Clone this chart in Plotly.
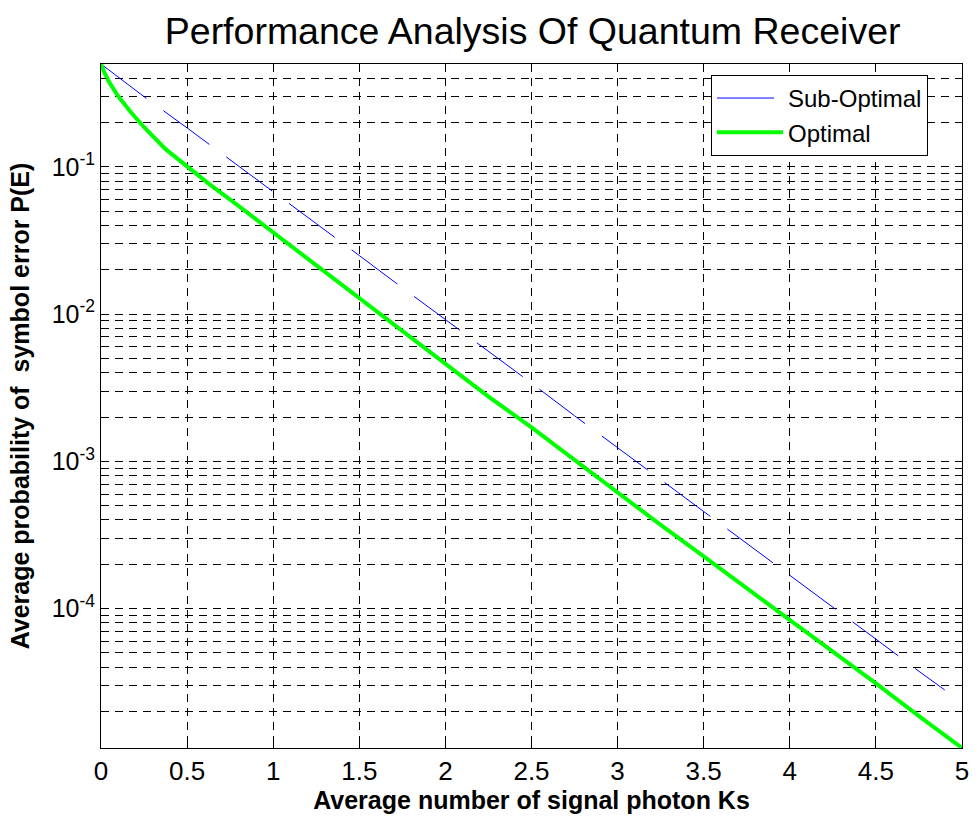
import plotly.graph_objects as go

# Data
ks_sub = [0, 0.25, 0.5, 0.75, 1.0, 1.25, 1.5, 1.75, 2.0, 2.25, 2.5, 2.75, 3.0,
          3.25, 3.5, 3.75, 4.0, 4.25, 4.5, 4.75, 4.9]
pe_sub = [0.5, 0.30, 0.184, 0.112, 0.068, 0.041, 0.025, 0.0151, 0.0092, 0.0056,
          0.0034, 0.00204, 0.00124, 7.5e-4, 4.6e-4, 2.8e-4, 1.68e-4, 1.02e-4,
          6.2e-5, 3.75e-5, 2.8e-5]

ks_opt = [0, 0.02, 0.05, 0.1, 0.175, 0.25, 0.375, 0.5, 0.625, 0.75, 1.0, 1.25,
          1.5, 1.75, 2.0, 2.25, 2.5, 2.75, 3.0, 3.25, 3.5, 3.75, 4.0, 4.25, 4.5,
          4.75, 5.0]
pe_opt = [0.5, 0.436, 0.372, 0.302, 0.234, 0.186, 0.132, 0.1, 0.077, 0.060,
          0.0359, 0.0214, 0.0127, 0.0076, 0.00452, 0.00275, 0.0017, 0.00102,
          6.2e-4, 3.7e-4, 2.26e-4, 1.38e-4, 8.3e-5, 5.07e-5, 3.1e-5, 1.86e-5,
          1.13e-5]

x_ticks = [0, 0.5, 1, 1.5, 2, 2.5, 3, 3.5, 4, 4.5, 5]
x_labels = ["0", "0.5", "1", "1.5", "2", "2.5", "3", "3.5", "4", "4.5", "5"]

decades = [1e-5, 1e-4, 1e-3, 1e-2, 1e-1]
decade_labels = ["10<sup>-5</sup>", "10<sup>-4</sup>", "10<sup>-3</sup>",
                 "10<sup>-2</sup>", "10<sup>-1</sup>"]
minor_mult = [2, 3, 4, 5, 6, 7, 8, 9]

y_vals, y_text = [], []
for d, lab in zip(decades, decade_labels):
    y_vals.append(d)
    y_text.append(lab)
    for m in minor_mult:
        v = d * m
        if v < 0.5:
            y_vals.append(v)
            y_text.append("")

fig = go.Figure()
fig.add_trace(go.Scatter(x=ks_sub, y=pe_sub, mode="lines", name="Sub-Optimal",
                         line=dict(color="#0000ff", width=1, dash="57px,21px")))
fig.add_trace(go.Scatter(x=ks_opt, y=pe_opt, mode="lines", name="Optimal",
                         line=dict(color="#00ff00", width=4)))

font_main = "Liberation Sans, Arial, sans-serif"
fig.update_layout(
    width=980, height=822,
    margin=dict(l=101, r=11, t=64, b=74),
    paper_bgcolor="white", plot_bgcolor="white",
    font=dict(family=font_main, color="black", size=24),
    title=dict(text="Performance Analysis Of Quantum Receiver",
               font=dict(size=37.5, family=font_main, color="black"),
               x=0.5435, xanchor="center", y=0.963, yanchor="middle"),
    showlegend=True,
    legend=dict(x=0.7085, y=0.984, xanchor="left", yanchor="top",
                bgcolor="white", bordercolor="black", borderwidth=1,
                font=dict(size=24, family=font_main), tracegroupgap=0,
                itemwidth=66),
)
fig.update_xaxes(
    range=[0, 5], tickvals=x_ticks, ticktext=x_labels,
    showgrid=True, gridcolor="black", gridwidth=1, griddash="8px,6px",
    showline=True, linecolor="black", linewidth=1, mirror="ticks",
    ticks="inside", ticklen=7, tickcolor="black",
    tickfont=dict(size=26), zeroline=False,
    title=dict(text="<b>Average number of signal photon Ks</b>",
               font=dict(size=25), standoff=4),
)
fig.update_yaxes(
    type="log", range=[-4.947, -0.301], tickvals=y_vals, ticktext=y_text,
    showgrid=True, gridcolor="black", gridwidth=1, griddash="8px,6px",
    showline=True, linecolor="black", linewidth=1, mirror="ticks",
    ticks="inside", ticklen=5, tickcolor="black",
    tickfont=dict(size=25), zeroline=False,
    title=dict(text="<b>Average probability of  symbol error P(E)</b>",
               font=dict(size=25), standoff=14),
)

fig.write_html("out.html")
